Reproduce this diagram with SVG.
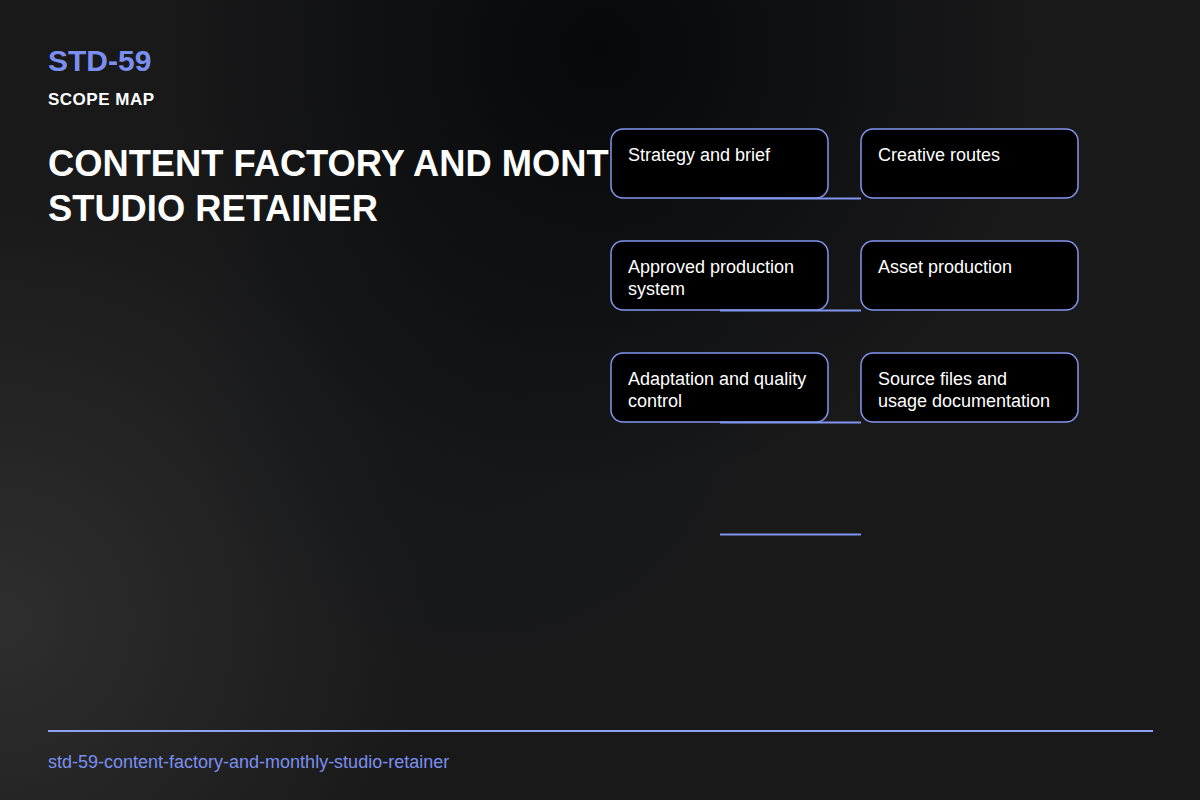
<svg xmlns="http://www.w3.org/2000/svg" width="1200" height="800" viewBox="0 0 1200 800">
  <defs>
    <radialGradient id="glowA" cx="0" cy="620" r="430" gradientUnits="userSpaceOnUse">
      <stop offset="0" stop-color="#2e2e2e"/>
      <stop offset="1" stop-color="#2e2e2e" stop-opacity="0"/>
    </radialGradient>
    <radialGradient id="darkA" cx="600" cy="50" r="440" gradientUnits="userSpaceOnUse">
      <stop offset="0" stop-color="#07080a"/>
      <stop offset="1" stop-color="#07080a" stop-opacity="0"/>
    </radialGradient>
    <radialGradient id="darkB" cx="480" cy="380" r="300" gradientUnits="userSpaceOnUse">
      <stop offset="0" stop-color="#111418" stop-opacity="0.6"/>
      <stop offset="1" stop-color="#111418" stop-opacity="0"/>
    </radialGradient>
    <style>
      .node rect { fill: #000000; stroke: #8196f0; stroke-width: 1.5; }
      .node text { font-family: "Liberation Sans", Arial, sans-serif; font-size: 18px; fill: #ffffff; }
      .conn line { stroke: #8196f0; stroke-width: 2; }
      .h { font-family: "Liberation Sans", Arial, sans-serif; font-weight: bold; }
    </style>
  </defs>
  <rect width="1200" height="800" fill="#19191a"/>
  <rect width="1200" height="800" fill="url(#glowA)"/>
  <rect width="1200" height="800" fill="url(#darkB)"/>
  <rect width="1200" height="800" fill="url(#darkA)"/>

  <g id="header">
    <text class="h" x="48" y="71" font-size="30" fill="#7b8ff0">STD-59</text>
    <text class="h" x="48" y="105" font-size="17" letter-spacing="0.5" fill="#ffffff">SCOPE MAP</text>
    <text class="h" x="48" y="176" font-size="36.3" fill="#ffffff">CONTENT FACTORY AND MONT</text>
    <text class="h" x="48" y="221" font-size="36.3" fill="#ffffff">STUDIO RETAINER</text>
  </g>

  <g id="n1" class="node">
    <rect x="611" y="129" width="217" height="69" rx="12"/>
    <text x="628" y="161">Strategy and brief</text>
  </g>
  <g id="n2" class="node">
    <rect x="861" y="129" width="217" height="69" rx="12"/>
    <text x="878" y="161">Creative routes</text>
  </g>
  <g id="n3" class="node">
    <rect x="611" y="241" width="217" height="69" rx="12"/>
    <text x="628" y="273">Approved production</text>
    <text x="628" y="295">system</text>
  </g>
  <g id="n4" class="node">
    <rect x="861" y="241" width="217" height="69" rx="12"/>
    <text x="878" y="273">Asset production</text>
  </g>
  <g id="n5" class="node">
    <rect x="611" y="353" width="217" height="69" rx="12"/>
    <text x="628" y="385">Adaptation and quality</text>
    <text x="628" y="407">control</text>
  </g>
  <g id="n6" class="node">
    <rect x="861" y="353" width="217" height="69" rx="12"/>
    <text x="878" y="385">Source files and</text>
    <text x="878" y="407">usage documentation</text>
  </g>

  <g id="connectors" class="conn">
    <line x1="720" y1="198.5" x2="861" y2="198.5"/>
    <line x1="720" y1="310.5" x2="861" y2="310.5"/>
    <line x1="720" y1="422.5" x2="861" y2="422.5"/>
    <line x1="720" y1="534.5" x2="861" y2="534.5"/>
  </g>

  <g id="footer">
    <line x1="48" y1="731" x2="1153" y2="731" stroke="#8fa0f5" stroke-width="2"/>
    <text x="48" y="768" font-family="&quot;Liberation Sans&quot;, Arial, sans-serif" font-size="18" fill="#7b8ff0">std-59-content-factory-and-monthly-studio-retainer</text>
  </g>
</svg>
